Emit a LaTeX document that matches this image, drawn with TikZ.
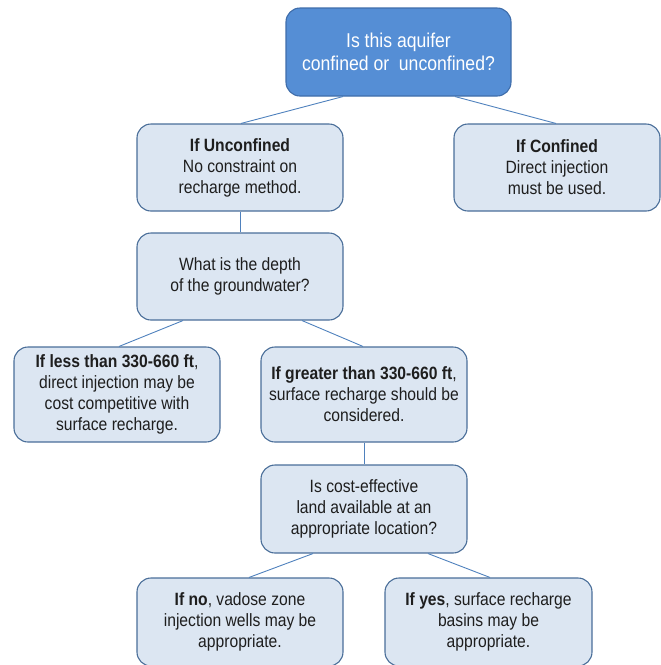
\documentclass[tikz,border=0pt]{standalone}
\usepackage{fontspec}
\setmainfont{Liberation Sans}[FakeStretch=0.88]
\definecolor{topfill}{HTML}{558ED5}
\definecolor{topdraw}{HTML}{3F6DAA}
\definecolor{boxfill}{HTML}{DCE6F2}
\definecolor{boxdraw}{HTML}{4A6E99}
\definecolor{linecol}{HTML}{4F81BD}
\definecolor{txt}{HTML}{1E1E1E}
\begin{document}
\begin{tikzpicture}[x=1pt,y=-1pt,
  box/.style={draw=boxdraw,fill=boxfill,line width=1.1pt,rounded corners=14pt,
    minimum width=206pt,minimum height=87pt,align=center,text=txt,
    font=\fontsize{17.8}{21}\selectfont,inner sep=0pt},
  topbox/.style={box,fill=topfill,draw=topdraw,text=white,minimum width=225pt,minimum height=88pt,
    font=\fontsize{20}{22.5}\selectfont},
  conn/.style={draw=linecol,line width=0.9pt}]
\useasboundingbox (0,0) rectangle (661,665);
\node[topbox] (top) at (398.5,52) {Is this aquifer\\confined or\ \ unconfined?};
\node[box] (unconf) at (240,167.5) {\textbf{If Unconfined}\\No constraint on\\recharge method.};
\node[box] (conf) at (557,167.5) {\textbf{If Confined}\\Direct injection\\must be used.};
\node[box] (depth) at (240,276.5) {What is the depth\\of the groundwater?};
\node[box,minimum height=95pt] (less) at (117,394.5) {\textbf{If less than 330-660 ft},\\direct injection may be\\cost competitive with\\surface recharge.};
\node[box,minimum height=95pt] (greater) at (364,394.5) {\textbf{If greater than 330-660 ft},\\surface recharge should be\\considered.};
\node[box,minimum height=88pt] (land) at (364,509) {Is cost-effective\\land available at an\\appropriate location?};
\node[box,minimum height=88pt] (no) at (240,622) {\textbf{If no}, vadose zone\\injection wells may be\\appropriate.};
\node[box,minimum height=88pt,minimum width=207pt] (yes) at (488.5,622) {\textbf{If yes}, surface recharge\\basins may be\\appropriate.};
\draw[conn] ([xshift=-55.5pt]top.south) -- ([xshift=1pt]unconf.north);
\draw[conn] ([xshift=56.5pt]top.south) -- ([xshift=-1pt]conf.north);
\draw[conn] (unconf.south) -- (depth.north);
\draw[conn] ([xshift=-57pt]depth.south) -- ([xshift=2pt]less.north);
\draw[conn] ([xshift=62pt]depth.south) -- ([xshift=-1pt]greater.north);
\draw[conn] (greater.south) -- (land.north);
\draw[conn] ([xshift=-51pt]land.south) -- ([xshift=9pt]no.north);
\draw[conn] ([xshift=64pt]land.south) -- ([xshift=1.5pt]yes.north);
\end{tikzpicture}
\end{document}
